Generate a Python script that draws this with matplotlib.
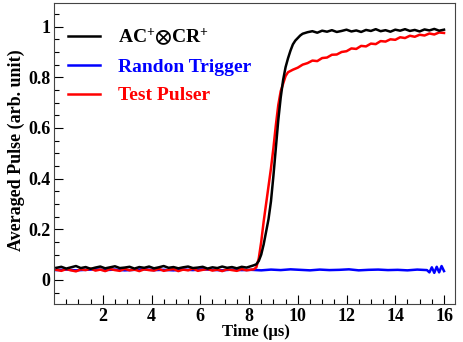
import numpy as np
import matplotlib.pyplot as plt
from matplotlib.ticker import MultipleLocator

# ---- data (time in us, averaged pulse in arb. unit) ----
t_black = [0.1, 0.3, 0.5, 0.7, 0.9, 1.1, 1.3, 1.5, 1.7, 1.9,
           2.1, 2.3, 2.5, 2.7, 2.9, 3.1, 3.3, 3.5, 3.7, 3.9,
           4.1, 4.3, 4.5, 4.7, 4.9, 5.1, 5.3, 5.5, 5.7, 5.9,
           6.1, 6.3, 6.5, 6.7, 6.9, 7.1, 7.3, 7.5, 7.7, 7.9, 8.1,
           8.2, 8.3, 8.4, 8.5, 8.6, 8.7, 8.8, 8.9, 9.0, 9.1,
           9.2, 9.3, 9.4, 9.5, 9.6, 9.7, 9.8, 9.9, 10.0, 10.1, 10.2,
           10.4, 10.6, 10.8, 11.0, 11.2, 11.4, 11.6, 11.8, 12.0, 12.2,
           12.4, 12.6, 12.8, 13.0, 13.2, 13.4, 13.6, 13.8, 14.0, 14.2,
           14.4, 14.6, 14.8, 15.0, 15.2, 15.4, 15.6, 15.8, 16.0]
v_black = [0.048, 0.052, 0.045, 0.050, 0.055, 0.047, 0.051, 0.044, 0.049, 0.053,
           0.046, 0.050, 0.054, 0.047, 0.049, 0.052, 0.045, 0.051, 0.048, 0.053,
           0.046, 0.050, 0.055, 0.048, 0.051, 0.046, 0.050, 0.053, 0.047, 0.049,
           0.052, 0.045, 0.050, 0.047, 0.053, 0.048, 0.051, 0.046, 0.052, 0.049, 0.055,
           0.058, 0.062, 0.075, 0.100, 0.140, 0.190, 0.240, 0.310, 0.410, 0.520,
           0.630, 0.720, 0.790, 0.840, 0.875, 0.905, 0.930, 0.945, 0.955, 0.965, 0.972,
           0.978, 0.982, 0.976, 0.984, 0.980, 0.986, 0.979, 0.983, 0.988, 0.981,
           0.985, 0.979, 0.987, 0.983, 0.990, 0.982, 0.986, 0.980, 0.988, 0.984,
           0.990, 0.983, 0.987, 0.981, 0.989, 0.985, 0.991, 0.984, 0.988]

t_red = [0.1, 0.3, 0.5, 0.7, 0.9, 1.1, 1.3, 1.5, 1.7, 1.9,
         2.1, 2.3, 2.5, 2.7, 2.9, 3.1, 3.3, 3.5, 3.7, 3.9,
         4.1, 4.3, 4.5, 4.7, 4.9, 5.1, 5.3, 5.5, 5.7, 5.9,
         6.1, 6.3, 6.5, 6.7, 6.9, 7.1, 7.3, 7.5, 7.7, 7.9, 8.1,
         8.2, 8.3, 8.4, 8.5, 8.6, 8.7, 8.8, 8.9, 9.0, 9.1,
         9.2, 9.3, 9.4, 9.5, 9.6, 9.8, 10.0, 10.2,
         10.4, 10.6, 10.8, 11.0, 11.2, 11.4, 11.6, 11.8, 12.0, 12.2,
         12.4, 12.6, 12.8, 13.0, 13.2, 13.4, 13.6, 13.8, 14.0, 14.2,
         14.4, 14.6, 14.8, 15.0, 15.2, 15.4, 15.6, 15.8, 16.0]
v_red = [0.040, 0.036, 0.043, 0.038, 0.034, 0.042, 0.039, 0.045, 0.037, 0.041,
         0.035, 0.043, 0.039, 0.036, 0.044, 0.038, 0.041, 0.035, 0.042, 0.039,
         0.037, 0.044, 0.036, 0.040, 0.043, 0.035, 0.041, 0.038, 0.045, 0.036,
         0.040, 0.043, 0.037, 0.041, 0.035, 0.042, 0.039, 0.036, 0.043, 0.038, 0.041,
         0.042, 0.050, 0.085, 0.150, 0.230, 0.300, 0.370, 0.440, 0.520, 0.610,
         0.690, 0.745, 0.775, 0.805, 0.820, 0.830, 0.838, 0.850,
         0.856, 0.866, 0.864, 0.876, 0.878, 0.889, 0.890, 0.900, 0.903, 0.914,
         0.912, 0.924, 0.922, 0.933, 0.931, 0.943, 0.941, 0.950, 0.948, 0.958,
         0.955, 0.964, 0.960, 0.968, 0.965, 0.973, 0.969, 0.977, 0.975]

t_blue = [0.1, 0.5, 0.9, 1.3, 1.7, 2.1, 2.5, 2.9, 3.3, 3.7,
          4.1, 4.5, 4.9, 5.3, 5.7, 6.1, 6.5, 6.9, 7.3, 7.7,
          8.1, 8.5, 8.9, 9.3, 9.7, 10.1, 10.5, 10.9, 11.3, 11.7,
          12.1, 12.5, 12.9, 13.3, 13.7, 14.1, 14.5, 14.9, 15.3,
          15.4, 15.5, 15.6, 15.7, 15.8, 15.9, 16.0]
v_blue = [0.039, 0.041, 0.038, 0.040, 0.042, 0.039, 0.041, 0.038, 0.040, 0.042,
          0.039, 0.040, 0.038, 0.041, 0.039, 0.042, 0.040, 0.038, 0.041, 0.039,
          0.040, 0.038, 0.041, 0.039, 0.042, 0.040, 0.038, 0.041, 0.039, 0.040,
          0.042, 0.038, 0.040, 0.041, 0.039, 0.040, 0.038, 0.041, 0.039,
          0.030, 0.050, 0.028, 0.052, 0.030, 0.055, 0.035]

labels = [r'AC$^{+}{\otimes}$CR$^{+}$', 'Randon Trigger', 'Test Pulser']
colors = ['black', '#0000ff', '#ff0000']

plt.rcParams['font.family'] = ['Liberation Serif', 'DejaVu Serif']
plt.rcParams['font.weight'] = 'bold'
plt.rcParams['mathtext.fontset'] = 'custom'
plt.rcParams['mathtext.rm'] = 'Liberation Serif:bold'
plt.rcParams['mathtext.bf'] = 'Liberation Serif:bold'
plt.rcParams['mathtext.default'] = 'rm'
plt.rcParams['mathtext.fallback'] = 'stix'

fig = plt.figure(figsize=(4.63, 3.42), dpi=100)
ax = fig.add_axes([0.1177, 0.111, 0.865, 0.880])

l_blue, = ax.plot(t_blue, v_blue, color=colors[1], lw=1.8)
l_red, = ax.plot(t_red, v_red, color=colors[2], lw=1.8)
l_black, = ax.plot(t_black, v_black, color=colors[0], lw=1.8)

ax.set_xlim(0.02, 16.45)
ax.set_ylim(-0.095, 1.093)

ax.xaxis.set_minor_locator(MultipleLocator(0.5))
ax.yaxis.set_minor_locator(MultipleLocator(0.05))
ax.set_xticks([2, 4, 6, 8, 10, 12, 14, 16])
ax.set_yticks([0, 0.2, 0.4, 0.6, 0.8, 1.0])
ax.set_yticklabels(['0', '0.2', '0.4', '0.6', '0.8', '1'])

ax.tick_params(which='both', direction='in', top=False, right=False, labelsize=13)
ax.tick_params(which='major', length=6.5, width=0.8)
ax.tick_params(which='minor', length=3.3, width=0.8)
ax.tick_params(axis='x', pad=3)
ax.tick_params(axis='y', pad=3)
for s in ax.spines.values():
    s.set_linewidth(0.8)
    s.set_color('#444444')

ax.set_xlabel('Time (\u00b5s)', fontsize=12, fontweight='bold')
ax.set_ylabel('Averaged Pulse (arb. unit)', fontsize=13, fontweight='bold')
ax.xaxis.set_label_coords(0.503, -0.066)
ax.yaxis.set_label_coords(-0.074, 0.51)

leg = ax.legend([l_black, l_blue, l_red], labels, loc='upper left',
                bbox_to_anchor=(0.034, 0.922), frameon=False, borderpad=0,
                borderaxespad=0, prop={'size': 14, 'weight': 'bold'},
                handlelength=1.65, handletextpad=0.9, labelspacing=0.55)
for txt, c in zip(leg.get_texts(), colors):
    txt.set_color(c)

fig.savefig('out.png', dpi=100)
